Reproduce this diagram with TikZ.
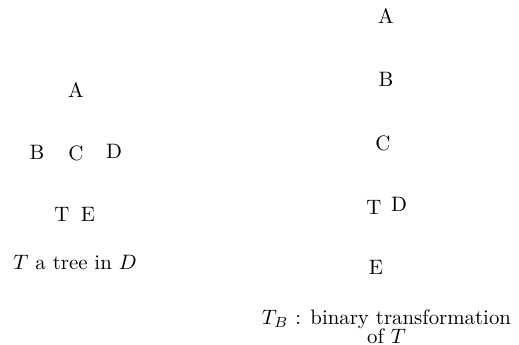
\documentclass[tikz,border=0pt]{standalone}
\begin{document}
\begin{tikzpicture}[x=0.48pt,y=-0.48pt,lbl/.style={inner sep=0pt}]
\useasboundingbox (0,0) rectangle (519,345);
% left tree T
\node[lbl] (la) at (76,90) {A};
\node[lbl] (lb) at (37,152) {B};
\node[lbl] (lc) at (76,153) {C};
\node[lbl] (ld) at (114,151) {D};
\node[lbl] (lt) at (62,214) {T};
\node[lbl] (le) at (88,214) {E};
\node[lbl] (lcap) at (75,262) {$T$ a tree in $D$};
% right tree T_B
\node[lbl] (ra) at (386,16) {A};
\node[lbl] (rb) at (386,79) {B};
\node[lbl] (rc) at (383,143) {C};
\node[lbl] (rt) at (374,207) {T};
\node[lbl] (rd) at (399,204) {D};
\node[lbl] (re) at (376,267) {E};
\node[lbl,align=center] (rcap) at (386.5,327) {$T_B$ : binary transformation\\[-2.9pt]of $T$};
\end{tikzpicture}
\end{document}
